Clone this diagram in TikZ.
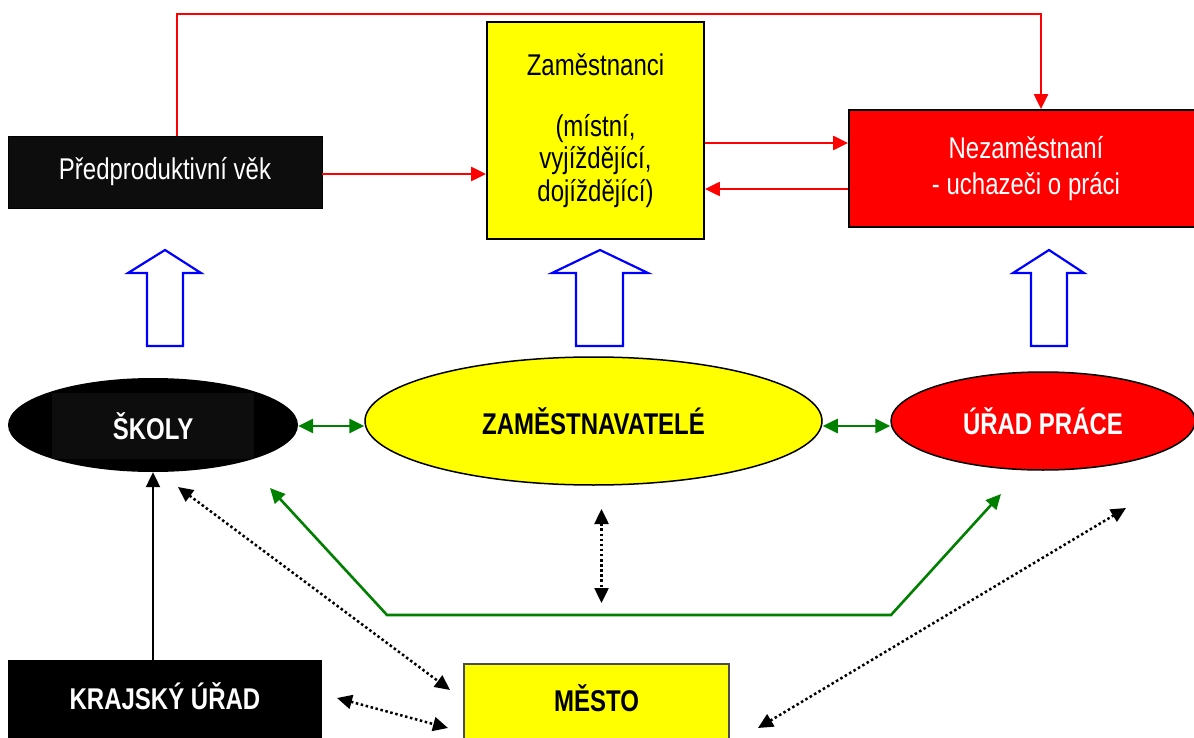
\documentclass[tikz,border=0pt]{standalone}
\usepackage{fontspec}
\setmainfont{Liberation Sans}[FakeStretch=0.80]
\usetikzlibrary{shapes.geometric,arrows.meta,calc}
\definecolor{boxblack}{HTML}{0D0D0D}
\definecolor{ylw}{HTML}{FFFF00}
\definecolor{rd}{HTML}{FF0000}
\definecolor{grn}{HTML}{008000}
\definecolor{blu}{HTML}{0000FF}
\tikzset{
  fnt/.style={font=\fontsize{30}{32.5}\selectfont},
  bfnt/.style={font=\fontsize{30}{33}\selectfont\bfseries},
  rbox/.style={rectangle, inner sep=0pt, align=center},
  ell/.style={ellipse, inner sep=0pt},
  tipA/.style={-{Triangle[length=15pt,width=14pt]}},
  tipB/.style={{Triangle[length=15pt,width=14pt]}-{Triangle[length=15pt,width=14pt]}},
  redarr/.style={draw=rd, line width=2.2pt, tipA, color=rd},
  grnline/.style={draw=grn, line width=2.6pt, color=grn},
  dotline/.style={draw=black, line width=2.5pt, dash pattern=on 2.5pt off 2.6pt, tipB},
  hollow/.style={draw=blu, line width=2.2pt, fill=white, line join=miter},
}
\begin{document}
\begin{tikzpicture}[x=1pt,y=-1pt]
\useasboundingbox (0,0) rectangle (1194,738);
\fill[white] (0,0) rectangle (1194,738);

% top row boxes
\node[rbox, fnt, fill=boxblack, draw=black, line width=0.8pt, text=white,
  minimum width=314pt, minimum height=72pt] (pre) at (165,172) {Předproduktivní věk};
\node[rbox, fnt, fill=ylw, draw=black, line width=1.8pt, text=black,
  minimum width=217pt, minimum height=217pt] (zam) at (595.5,130.5)
  {Zaměstnanci\\[28.5pt](místní,\\vyjíždějící,\\dojíždějící)};
\node[rbox, fill=rd, draw=black, line width=1.8pt, text=white, font=\fontsize{30}{36}\selectfont,
  minimum width=354pt, minimum height=117pt] (nez) at (1026,168.5)
  {Nezaměstnaní\\- uchazeči o práci};

% ellipses
\node[ell, fill=black, minimum width=290pt, minimum height=94pt] (skoly) at (153,425) {};
\node[rbox, bfnt, fill=boxblack, text=white, minimum width=202pt, minimum height=66pt] (skolyt) at (153,426) {ŠKOLY};
\node[ell, bfnt, fill=ylw, draw=black, line width=1.5pt, text=black,
  minimum width=457pt, minimum height=128pt] (zamel) at (593.5,421) {ZAMĚSTNAVATELÉ};
\node[ell, bfnt, fill=rd, draw=black, line width=1.5pt, text=white,
  minimum width=304pt, minimum height=98pt] (urad) at (1043,421) {ÚŘAD PRÁCE};

% bottom boxes
\node[rbox, bfnt, fill=black, text=white, minimum width=314pt, minimum height=90pt] (kraj)
  at (165,705) {\raisebox{17pt}{KRAJSKÝ ÚŘAD}};
\node[rbox, bfnt, fill=ylw, draw=black!70, line width=1.4pt, text=black,
  minimum width=265pt, minimum height=90pt] (mesto) at (596.5,709) {\raisebox{22pt}{MĚSTO}};

% hollow blue arrows
\foreach \t/\hl/\hr/\sl/\sr in {165/128/201/147/183, 600/552/648/576/623, 1049/1013/1084/1031/1067}{
  \draw[hollow] (\t,250) -- (\hr,273) -- (\sr,273) -- (\sr,346) -- (\sl,346) -- (\sl,273) -- (\hl,273) -- cycle;
}

% red connectors
\coordinate (tr) at (1041,14);
\draw[redarr] (pre.east |- 0,174) -- (zam.west |- 0,174);
\draw[redarr] (zam.east |- 0,143) -- (nez.west |- 0,143);
\draw[redarr] (nez.west |- 0,189) -- (zam.east |- 0,189);
\draw[redarr] (pre.north -| 177,0) |- (tr) -- (nez.north -| tr);

% green connectors
\draw[grnline, tipB] (skoly.east |- 0,426) -- (zamel.west |- 0,426);
\draw[grnline, tipB] (zamel.east |- 0,426) -- (urad.west |- 0,426);
\coordinate (gL) at (270,488);
\coordinate (g1) at (387,615);
\coordinate (g2) at (891,615);
\coordinate (gR) at (1001,494);
\draw[grnline, tipB, line join=miter] (gL) -- (g1) -- (g2) -- (gR);

% black solid
\draw[black, line width=2.2pt, tipA] (kraj.north -| skoly.south) -- (skoly.south);

% dotted connectors
\coordinate (d1a) at (178,487);
\coordinate (d1b) at (450,690);
\coordinate (d2a) at (337,698);
\coordinate (d2b) at (448,728);
\coordinate (d3a) at (601.5,509);
\coordinate (d3b) at (601.5,603);
\coordinate (d4a) at (758,728);
\coordinate (d4b) at (1126,508);
\draw[dotline] (d1a) -- (d1b);
\draw[dotline] (d2a) -- (d2b);
\draw[dotline] (d3a) -- (d3b);
\draw[dotline] (d4a) -- (d4b);
\end{tikzpicture}
\end{document}
